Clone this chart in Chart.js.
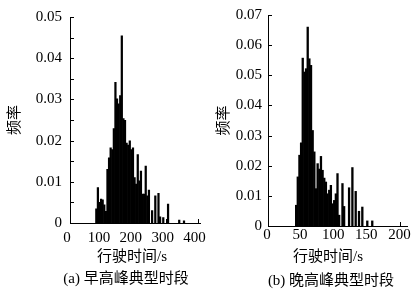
<!DOCTYPE html>
<html><head><meta charset="utf-8">
<script src="https://cdn.jsdelivr.net/npm/chart.js@4.4.1/dist/chart.umd.min.js"></script>
<style>
html,body{margin:0;padding:0;background:#fff;}
#wrap{position:relative;width:417px;height:290px;overflow:hidden;background:#fff;}
canvas{position:absolute;top:0;}
#c1{left:0;} #c2{left:210px;}
</style></head><body>
<div id="wrap"><canvas id="c1" width="215" height="290"></canvas><canvas id="c2" width="207" height="290"></canvas></div>
<script>
// (a) morning peak: bin centre (s) and relative frequency
const morningTimes = [82.5, 87.5, 92.5, 97.5, 102.5, 107.5, 112.5, 117.5, 122.5, 127.5,
  132.5, 137.5, 142.5, 147.5, 152.5, 157.5, 162.5, 167.5, 172.5, 177.5,
  182.5, 187.5, 192.5, 197.5, 202.5, 207.5, 212.5, 217.5, 222.5, 227.5,
  232.5, 237.5, 242.5, 247.5, 257.5, 267.5, 277.5, 282.5, 292.5, 307.5,
  342.5, 357.5];
const morningFreq = [0.0035, 0.0087, 0.0051, 0.0059, 0.0057, 0.0045, 0.0029, 0.0131, 0.0159, 0.0183,
  0.0179, 0.0230, 0.0342, 0.0302, 0.0290, 0.0310, 0.0455, 0.0254, 0.0250, 0.0195,
  0.0190, 0.0200, 0.0179, 0.0183, 0.0111, 0.0095, 0.0167, 0.0103, 0.0127, 0.0071,
  0.0071, 0.0139, 0.0067, 0.0081, 0.0031, 0.0067, 0.0073, 0.0016, 0.0014, 0.0047,
  0.0008, 0.0006];
// (b) evening peak
const eveningTimes = [42.5, 45, 47.5, 50, 52.5, 55, 57.5, 60, 62.5, 65,
  67.5, 70, 72.5, 75, 77.5, 80, 82.5, 85, 87.5, 90,
  92.5, 95, 97.5, 100, 102.5, 105, 107.5, 112.5, 115, 122.5,
  127.5, 132.5, 137.5, 142.5, 150, 157.5];
const eveningFreq = [0.0070, 0.0164, 0.0236, 0.0277, 0.0558, 0.0512, 0.0523, 0.0661, 0.0556, 0.0534,
  0.0318, 0.0247, 0.0125, 0.0208, 0.0190, 0.0232, 0.0186, 0.0160, 0.0147, 0.0108,
  0.0120, 0.0136, 0.0075, 0.0086, 0.0108, 0.0175, 0.0037, 0.0142, 0.0066, 0.0128,
  0.0195, 0.0116, 0.0050, 0.0064, 0.0018, 0.0018];

const morningXTicks = [0, 100, 200, 300, 400];
const morningYTicks = [0, 0.005, 0.01, 0.015, 0.02, 0.025, 0.03, 0.035, 0.04, 0.045, 0.05];
const eveningXTicks = [0, 50, 100, 150, 200];
const eveningYTicks = [0, 0.01, 0.02, 0.03, 0.04, 0.05, 0.06, 0.07];
const xTitle = '行驶时间/s';
const yTitle = '频率';
const captionA = '(a) 早高峰典型时段';
const captionB = '(b) 晚高峰典型时段';

const FAMILY = "'Liberation Serif','Noto Sans CJK SC',serif";
Chart.defaults.font.family = FAMILY;
Chart.defaults.color = '#000';

const inwardTicks = {
  id: 'inwardTicks',
  afterDraw(chart) {
    const {ctx, chartArea: a, scales: {x, y}} = chart;
    ctx.save();
    ctx.strokeStyle = '#000';
    ctx.lineWidth = 1;
    ctx.beginPath();
    y.ticks.forEach(t => {
      const py = Math.round(y.getPixelForValue(t.value)) + 0.5;
      ctx.moveTo(a.left, py); ctx.lineTo(a.left + 4, py);
    });
    x.ticks.forEach(t => {
      if (t.value === 0) return;
      const px = Math.round(x.getPixelForValue(t.value)) + 0.5;
      ctx.moveTo(px, a.bottom); ctx.lineTo(px, a.bottom - 4);
    });
    ctx.stroke();
    ctx.restore();
  }
};

// x-axis title and panel caption, drawn as text under the axis
const bottomTexts = {
  id: 'bottomTexts',
  afterDraw(chart, args, opts) {
    const ctx = chart.ctx;
    ctx.save();
    ctx.fillStyle = '#000';
    ctx.font = '15px ' + FAMILY;
    ctx.textAlign = 'center';
    ctx.textBaseline = 'middle';
    ctx.fillText(opts.title, opts.titleX, opts.titleY);
    ctx.fillText(opts.caption, opts.captionX, opts.captionY);
    ctx.restore();
  }
};

function yLabel(v) {
  if (Math.abs(v * 100 - Math.round(v * 100)) > 1e-9) return '';
  return v === 0 ? '0' : v.toFixed(2);
}

function makeChart(id, times, freq, xTicks, yTicks, caption, c) {
  return new Chart(document.getElementById(id), {
    type: 'bar',
    data: {datasets: [{
      data: times.map((t, i) => ({x: t, y: freq[i]})),
      backgroundColor: '#000', borderWidth: 0,
      barPercentage: 1.4, categoryPercentage: 1
    }]},
    options: {
      responsive: false, animation: false, devicePixelRatio: 1,
      layout: {padding: {top: c.padTop, right: c.padRight, left: 0, bottom: c.padBottom}},
      plugins: {
        legend: {display: false}, tooltip: {enabled: false},
        bottomTexts: {title: xTitle, caption: caption,
          titleX: c.titleX, titleY: c.titleY, captionX: c.captionX, captionY: c.captionY}
      },
      scales: {
        x: {
          type: 'linear', min: 0, max: c.xMax, offset: false,
          grid: {display: false, drawTicks: false},
          border: {display: true, color: '#000', width: 1},
          ticks: {padding: c.xTickPad, labelOffset: c.xLabelOffset, autoSkip: false, maxRotation: 0,
            font: {size: 15}, color: '#000', callback: v => String(v)},
          afterBuildTicks: s => { s.ticks = xTicks.map(v => ({value: v})); },
          afterFit: s => { s.height = c.xHeight; }
        },
        y: {
          min: 0, max: c.yMax,
          grid: {display: false, drawTicks: false},
          border: {display: true, color: '#000', width: 1},
          ticks: {padding: c.yTickPad, autoSkip: false, font: {size: 15}, color: '#000', callback: yLabel},
          title: {display: true, text: yTitle, padding: {top: c.yTitlePad, bottom: 0},
            font: {size: 15}, color: '#000'},
          afterBuildTicks: s => { s.ticks = yTicks.map(v => ({value: v})); },
          afterFit: s => { s.width = c.yWidth; }
        }
      }
    },
    plugins: [inwardTicks, bottomTexts]
  });
}

makeChart('c1', morningTimes, morningFreq, morningXTicks, morningYTicks, captionA,
  {xMax: 410, yMax: 0.05, padTop: 14, padRight: 8, padBottom: 45, yWidth: 70, xHeight: 22,
   xTickPad: 6, xLabelOffset: -3, yTickPad: 8, yTitlePad: 6,
   titleX: 132, titleY: 257.5, captionX: 126, captionY: 279});
makeChart('c2', eveningTimes, eveningFreq, eveningXTicks, eveningYTicks, captionB,
  {xMax: 210, yMax: 0.07, padTop: 15, padRight: 10, padBottom: 45, yWidth: 58, xHeight: 19,
   xTickPad: 0, xLabelOffset: -1, yTickPad: 6, yTitlePad: 5,
   titleX: 118, titleY: 257, captionX: 121, captionY: 281});
</script>
</body></html>
